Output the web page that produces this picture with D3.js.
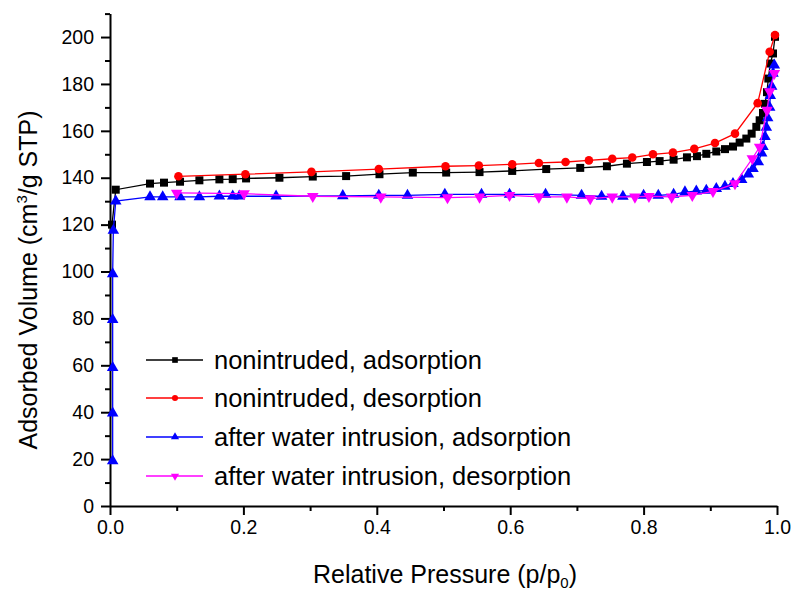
<!DOCTYPE html>
<html><head><meta charset="utf-8">
<script src="https://cdn.jsdelivr.net/npm/d3@7"></script>
<style>body{margin:0;background:#fff;}svg{display:block;font-family:"Liberation Sans",Arial,sans-serif;}</style>
</head><body><svg id="c" width="796" height="592"></svg>
<script>
const seriesNames = ["nonintruded, adsorption","nonintruded, desorption","after water intrusion, adsorption","after water intrusion, desorption"];
const seriesColors = ["#000000","#ff0000","#0000ff","#ff00ff"];
const xTicks = [0,0.2,0.4,0.6,0.8,1.0];
const yTicks = [0,20,40,60,80,100,120,140,160,180,200];

const nonAdsP = [0.003,0.0086,0.06,0.081,0.105,0.134,0.164,0.184,0.204,0.254,0.304,0.354,0.404,0.454,0.504,0.554,0.603,0.654,0.705,0.745,0.775,0.805,0.824,0.845,0.865,0.88,0.894,0.909,0.922,0.934,0.944,0.954,0.962,0.969,0.974,0.979,0.982,0.985,0.987,0.99,0.994,0.997];
const nonAdsV = [120,134.9,137.5,137.9,138.3,138.9,139.3,139.4,139.7,140.0,140.5,140.7,141.5,142.2,142.2,142.4,142.9,143.7,144.2,144.9,146.0,146.7,147.1,147.7,148.7,149.2,150.2,151.2,152.2,153.3,155.0,156.7,158.8,161.7,164.5,167.6,171.5,176.5,182.3,188.7,193.0,200.1];

const nonDesP = [0.997,0.989,0.971,0.937,0.907,0.876,0.844,0.814,0.783,0.753,0.718,0.683,0.643,0.603,0.553,0.503,0.403,0.302,0.203,0.1026];
const nonDesV = [200.9,193.7,171.8,158.8,154.8,152.3,150.7,150.0,148.6,148.1,147.4,146.7,146.3,145.7,145.2,144.9,143.7,142.5,141.5,140.6];

const intAdsP = [0.004,0.004,0.004,0.004,0.004,0.005,0.0086,0.06,0.079,0.105,0.134,0.164,0.184,0.194,0.249,0.349,0.403,0.446,0.502,0.557,0.599,0.653,0.707,0.737,0.769,0.8,0.822,0.845,0.862,0.879,0.894,0.909,0.922,0.934,0.947,0.957,0.964,0.972,0.977,0.979,0.982,0.984,0.986,0.989,0.99,0.992,0.994,0.996];
const intAdsV = [19.2,39.6,59,79.5,99,117.5,130,131.8,131.8,131.8,131.8,132.1,132.1,132.1,132.1,132.3,132.5,132.5,132.9,132.9,132.9,132.9,132.5,132,132,132.5,132.5,132.9,133.9,134.3,134.6,135.3,136.3,137.5,139.2,141.5,143.9,146.7,150.5,153.3,157.5,161.5,165.5,170,175,179,184.5,188];

const intDesP = [0.996,0.989,0.985,0.974,0.963,0.937,0.904,0.873,0.842,0.808,0.787,0.753,0.72,0.685,0.643,0.599,0.554,0.506,0.406,0.304,0.201,0.1];
const intDesV = [184.5,176.7,168.8,153.1,148.2,137.5,134.2,132.5,131.8,132.1,131.8,131.8,131.1,131.8,131.8,132.5,131.8,131.5,131.8,132.1,133.2,133.5];

const series = [
  {p:nonAdsP, v:nonAdsV, sym:d3.symbolSquare, size:64},
  {p:nonDesP, v:nonDesV, sym:d3.symbolCircle, size:58},
  {p:intAdsP, v:intAdsV, sym:d3.symbolTriangle, size:58, rot:0},
  {p:intDesP, v:intDesV, sym:d3.symbolTriangle, size:58, rot:180}
];

const FONT = "Liberation Sans, Arial, sans-serif";
const svg = d3.select("#c");
const x = d3.scaleLinear().domain([0,1]).range([110,777]);
const y = d3.scaleLinear().domain([0,210]).range([506,13.6]);

// Axes
const xAxis = d3.axisBottom(x).tickValues(xTicks).tickFormat(d3.format(".1f")).tickSize(9).tickSizeOuter(0);
const gx = svg.append("g").attr("transform","translate(0,506)").call(xAxis);
gx.select(".domain").attr("stroke-width",2);
gx.selectAll(".tick line").attr("stroke-width",2);
gx.selectAll(".tick text").attr("font-size",19.5).attr("font-family",FONT).attr("y",14).attr("dy","0.71em").attr("fill","#000");
const gxm = svg.append("g").attr("transform","translate(0,506)")
  .call(d3.axisBottom(x).tickValues(d3.range(0.1,1,0.2)).tickSize(5).tickFormat(""));
gxm.select(".domain").remove();
gxm.selectAll(".tick line").attr("stroke-width",2);

const yAxis = d3.axisLeft(y).tickValues(yTicks).tickSize(9).tickSizeOuter(0);
const gy = svg.append("g").attr("transform","translate(110,0)").call(yAxis);
gy.select(".domain").attr("stroke-width",2);
gy.selectAll(".tick line").attr("stroke-width",2);
gy.selectAll(".tick text").attr("font-size",19.5).attr("font-family",FONT).attr("x",-16).attr("fill","#000");
const gym = svg.append("g").attr("transform","translate(110,0)")
  .call(d3.axisLeft(y).tickValues(d3.range(10,211,20)).tickSize(5).tickFormat(""));
gym.select(".domain").remove();
gym.selectAll(".tick line").attr("stroke-width",2);

// Series
const line = d3.line().x(d=>x(d[0])).y(d=>y(d[1]));
series.forEach((s,i)=>{
  const pts = s.p.map((p,j)=>[p,s.v[j]]);
  svg.append("path").attr("d",line(pts)).attr("fill","none").attr("stroke",seriesColors[i]).attr("stroke-width",1.3);
  svg.append("g").selectAll("path").data(pts).join("path")
    .attr("d",d3.symbol().type(s.sym).size(s.size))
    .attr("transform",d=>`translate(${x(d[0])},${y(d[1])})${s.rot?` rotate(${s.rot})`:""}`)
    .attr("fill",seriesColors[i]);
});

// Legend
const legY = [360,398,437,476];
seriesNames.forEach((n,i)=>{
  const g = svg.append("g").attr("transform",`translate(0,${legY[i]})`);
  g.append("line").attr("x1",146).attr("x2",203).attr("y1",0).attr("y2",0).attr("stroke",seriesColors[i]).attr("stroke-width",1.3);
  const s = series[i];
  g.append("path").attr("d",d3.symbol().type(s.sym).size(s.size*0.5)).attr("transform",`translate(175,0)${s.rot?` rotate(${s.rot})`:""}`).attr("fill",seriesColors[i]);
  g.append("text").attr("x",214).attr("y",9).attr("font-size",25.5).attr("font-family",FONT).attr("fill","#000").text(n);
});

// Axis titles
const xt = svg.append("text").attr("x",445).attr("y",583).attr("text-anchor","middle").attr("font-size",25).attr("font-family",FONT).attr("fill","#000");
xt.append("tspan").text("Relative Pressure (p/p");
xt.append("tspan").attr("font-size",15).attr("dy",5).text("0");
xt.append("tspan").attr("dy",-5).text(")");

const yt = svg.append("text").attr("transform","translate(37,280) rotate(-90)").attr("text-anchor","middle").attr("font-size",25).attr("font-family",FONT).attr("fill","#000");
yt.append("tspan").text("Adsorbed Volume (cm");
yt.append("tspan").attr("font-size",15).attr("dy",-10).text("3");
yt.append("tspan").attr("dy",10).text("/g STP)");
</script></body></html>
